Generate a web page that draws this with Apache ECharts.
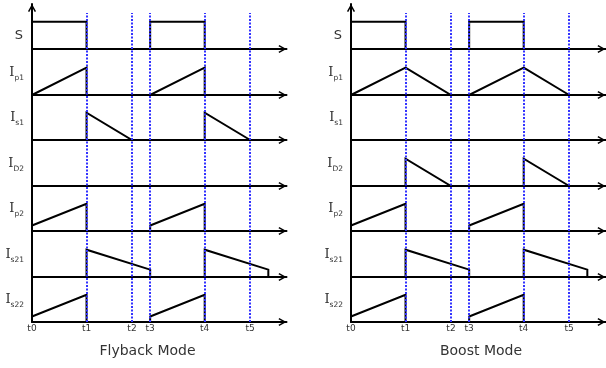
<!DOCTYPE html>
<html>
<head>
<meta charset="utf-8">
<script src="https://cdn.jsdelivr.net/npm/echarts@6/dist/echarts.min.js"></script>
<style>
  html, body { margin: 0; padding: 0; background: #fff; }
  #chart { width: 606px; height: 368px; }
</style>
</head>
<body>
<div id="chart"></div>
<script>
// switching instants, shared by both panels
const tValues = [0, 0.3, 0.55, 0.65, 0.95, 1.2];
const tLabels = ['t0', 't1', 't2', 't3', 't4', 't5'];

// row names, top to bottom (main letter + subscript)
const rowMain = ['S', 'I', 'I', 'I', 'I', 'I', 'I'];
const rowSub = ['', 'p1', 's1', 'D2', 'p2', 's21', 's22'];

// waveforms as [time, level], level 1 = peak
const sWave = [[0, 0], [0, 1], [0.3, 1], [0.3, 0], [0.65, 0], [0.65, 1], [0.95, 1], [0.95, 0]];
const flyIp1 = [[0, 0], [0.3, 1], [0.3, 0], [0.65, 0], [0.95, 1], [0.95, 0]];
const flyIs1 = [[0.3, 0], [0.3, 1], [0.55, 0], [0.95, 0], [0.95, 1], [1.2, 0]];
const flyID2 = [];
const boostIp1 = [[0, 0], [0.3, 1], [0.55, 0], [0.65, 0], [0.95, 1], [1.2, 0]];
const boostIs1 = [];
const boostID2 = [[0.3, 0], [0.3, 1], [0.55, 0], [0.95, 0], [0.95, 1], [1.2, 0]];
const ip2Wave = [[0, 0.2], [0.3, 1], [0.3, 0], [0.65, 0], [0.65, 0.2], [0.95, 1], [0.95, 0]];
const is21Wave = [[0.3, 0], [0.3, 1], [0.65, 0.27], [0.65, 0], [0.95, 0], [0.95, 1], [1.3, 0.27], [1.3, 0]];
const is22Wave = [[0, 0.2], [0.3, 1], [0.3, 0], [0.65, 0], [0.65, 0.2], [0.95, 1], [0.95, 0]];

const panels = [
    { name: 'Flyback Mode', left: 32, titleX: 147.5, rows: [sWave, flyIp1, flyIs1, flyID2, ip2Wave, is21Wave, is22Wave] },
    { name: 'Boost Mode', left: 351, titleX: 481, rows: [sWave, boostIp1, boostIs1, boostID2, ip2Wave, is21Wave, is22Wave] }
];

// layout (row baselines on whole pixels so waveforms sit on the axes)
const baselines = [49, 95, 140, 186, 231, 277, 322];
const top0 = 4;
const rowH = 45.45;
const axisW = 254.5;
const xMax = 1.4;
const yMax = 1.665;
const blueTop = 6.8; // in row units of the overlay grid
const arrow = 'path://M0,9 L5,0 L10,9 L8.4,9.9 L5,3.6 L1.6,9.9 Z';

const chart = echarts.init(document.getElementById('chart'));

const grid = [], xAxis = [], yAxis = [], series = [], graphic = [];

const axisLineStyle = {
    show: true,
    lineStyle: { color: '#000', width: 2 },
    symbol: ['none', arrow],
    symbolSize: [9, 8],
    symbolOffset: [0, -4]
};

panels.forEach(function (p) {
    p.rows.forEach(function (wave, r) {
        const idx = grid.length;
        const baseline = baselines[r];
        grid.push({ left: p.left, top: baseline - rowH, width: axisW, height: rowH });
        xAxis.push({
            gridIndex: idx, type: 'value', min: 0, max: xMax,
            axisLine: axisLineStyle,
            axisTick: { show: false }, axisLabel: { show: false }, splitLine: { show: false }
        });
        yAxis.push({ gridIndex: idx, type: 'value', min: 0, max: yMax, show: false });
        if (wave.length) {
            series.push({
                type: 'line', xAxisIndex: idx, yAxisIndex: idx,
                data: wave, symbol: 'none', clip: false, z: 3,
                lineStyle: { color: '#000', width: 2, join: 'miter' },
                animation: false
            });
        }
        // row label
        if (rowSub[r]) {
            graphic.push({
                type: 'text', x: p.left - 8, y: baseline - 22.5,
                style: {
                    text: '{i|' + rowMain[r] + '}{sub|' + rowSub[r] + '}',
                    align: 'right', verticalAlign: 'middle',
                    rich: {
                        i: { fontFamily: 'DejaVu Serif', fontSize: 13, lineHeight: 20, fill: '#333', color: '#333' },
                        sub: { fontFamily: 'DejaVu Sans', fontSize: 7.5, lineHeight: 8, verticalAlign: 'bottom', fill: '#333', color: '#333' }
                    }
                }
            });
        } else {
            graphic.push({
                type: 'text', x: p.left - 9, y: baseline - 13,
                style: {
                    text: rowMain[r], align: 'right', verticalAlign: 'middle',
                    font: '13px "DejaVu Sans"', fill: '#333'
                }
            });
        }
    });

    // overlay grid: vertical axis, time labels, dotted markers
    const o = grid.length;
    grid.push({ left: p.left, top: top0, width: axisW, height: baselines[6] - top0 });
    xAxis.push({
        gridIndex: o, type: 'value', min: 0, max: xMax,
        axisLine: { show: false }, axisTick: { show: false }, splitLine: { show: false },
        axisLabel: {
            show: true, customValues: tValues, margin: 2,
            fontSize: 9, color: '#333', fontFamily: 'DejaVu Sans',
            formatter: function (v) {
                let best = 0;
                tValues.forEach(function (t, i) { if (Math.abs(t - v) < Math.abs(tValues[best] - v)) best = i; });
                return tLabels[best];
            }
        }
    });
    yAxis.push({
        gridIndex: o, type: 'value', min: 0, max: 7,
        axisLine: axisLineStyle,
        axisTick: { show: false }, axisLabel: { show: false }, splitLine: { show: false }
    });
    series.push({
        type: 'line', xAxisIndex: o, yAxisIndex: o, data: [], z: 1,
        animation: false,
        markLine: {
            silent: true, symbol: ['none', 'none'], animation: false,
            label: { show: false },
            lineStyle: { color: '#3333ff', width: 2, type: [2, 1.5], opacity: 1 },
            emphasis: { disabled: true },
            data: tValues.slice(1).map(function (t) {
                return [{ coord: [t, 0] }, { coord: [t, blueTop] }];
            })
        }
    });

    graphic.push({
        type: 'text', x: p.titleX, y: 351.5,
        style: {
            text: p.name, align: 'center', verticalAlign: 'middle',
            font: '14px "DejaVu Sans"', fill: '#333'
        }
    });
});

chart.setOption({
    animation: false,
    backgroundColor: '#fff',
    grid: grid,
    xAxis: xAxis,
    yAxis: yAxis,
    series: series,
    graphic: graphic
});
</script>
</body>
</html>
